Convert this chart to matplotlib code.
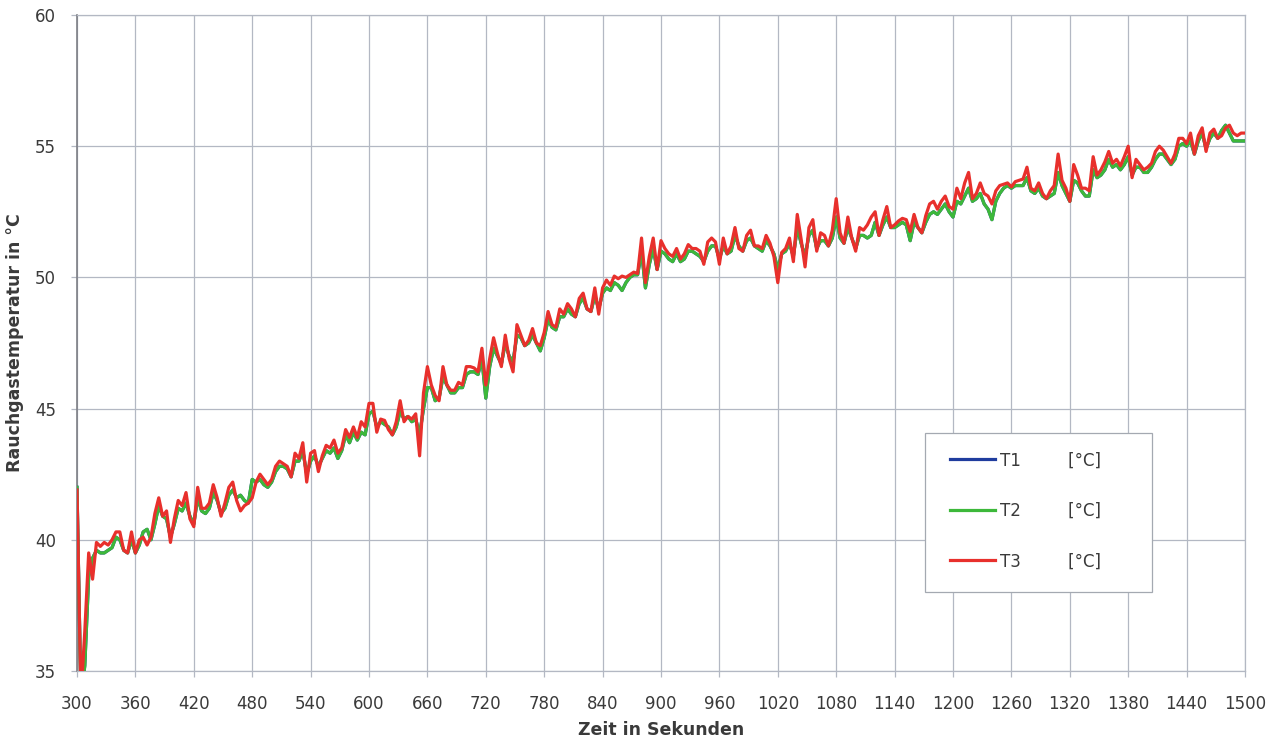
import numpy as np
import matplotlib
matplotlib.use("Agg")
import matplotlib.pyplot as plt
from matplotlib.patches import Rectangle

# Sampling times in seconds (one reading every 4 s)
zeit = np.arange(300, 1501, 4)

# Flue gas temperature sensor T3 [°C]
t3 = [
    41.9, 34.0, 36.5, 39.5, 38.5, 39.9, 39.75, 39.9, 39.8, 40.0,
    40.3, 40.3, 39.6, 39.5, 40.3, 39.5, 40.0, 40.1, 39.8, 40.1,
    41.0, 41.6, 40.9, 41.1, 39.9, 40.8, 41.5, 41.3, 41.8, 40.8,
    40.5, 42.0, 41.2, 41.2, 41.4, 42.1, 41.6, 40.9, 41.4, 42.0,
    42.2, 41.5, 41.1, 41.3, 41.4, 41.6, 42.2, 42.5, 42.3, 42.1,
    42.3, 42.8, 43.0, 42.9, 42.8, 42.4, 43.3, 43.1, 43.7, 42.2,
    43.3, 43.4, 42.6, 43.2, 43.6, 43.5, 43.8, 43.3, 43.5, 44.2,
    43.9, 44.3, 43.9, 44.5, 44.3, 45.2, 45.2, 44.1, 44.6, 44.55,
    44.2, 44.0, 44.5, 45.3, 44.5, 44.7, 44.6, 44.8, 43.2, 45.6,
    46.6, 45.9, 45.5, 45.3, 46.6, 45.9, 45.7, 45.7, 46.0, 45.9,
    46.6, 46.6, 46.55, 46.4, 47.3, 45.9, 46.9, 47.7, 47.1, 46.6,
    47.8, 46.9, 46.4, 48.2, 47.8, 47.4, 47.6, 48.05, 47.5, 47.4,
    47.9, 48.7, 48.2, 48.1, 48.8, 48.6, 49.0, 48.8, 48.5, 49.2,
    49.4, 48.8, 48.7, 49.6, 48.6, 49.6, 49.9, 49.7, 50.05, 49.95,
    50.05, 50.0, 50.1, 50.2, 50.15, 51.5, 49.8, 50.8, 51.5, 50.3,
    51.4, 51.1, 50.9, 50.8, 51.1, 50.7, 50.9, 51.25, 51.1, 51.1,
    51.0, 50.5, 51.35, 51.5, 51.35, 50.5, 51.5, 50.9, 51.2, 51.9,
    51.1, 51.0, 51.6, 51.8, 51.2, 51.2, 51.1, 51.6, 51.3, 50.8,
    49.8, 50.95, 51.1, 51.5, 50.6, 52.4, 51.45, 50.4, 51.9, 52.2,
    51.0, 51.7, 51.6, 51.2, 51.8, 53.0, 51.7, 51.3, 52.3, 51.5,
    51.0, 51.9, 51.8, 52.0, 52.3, 52.5, 51.6, 52.2, 52.7, 51.9,
    52.0, 52.15, 52.25, 52.2, 51.75, 52.4, 51.9, 51.7, 52.35, 52.8,
    52.9, 52.6, 52.9, 53.1, 52.7, 52.6, 53.4, 53.0, 53.6, 54.0,
    53.0, 53.2, 53.6, 53.2, 53.1, 52.8, 53.3, 53.5, 53.55, 53.6,
    53.45, 53.65, 53.7, 53.75, 54.2, 53.4, 53.3, 53.6, 53.2, 53.0,
    53.3, 53.5, 54.7, 53.7, 53.4, 52.9, 54.3, 53.9, 53.4, 53.4,
    53.3, 54.6, 53.9, 54.1, 54.4, 54.8, 54.35, 54.5, 54.25, 54.6,
    55.0, 53.8, 54.5, 54.3, 54.1, 54.2, 54.35, 54.8, 55.0, 54.85,
    54.6, 54.35, 54.7, 55.3, 55.3, 55.1, 55.5, 54.7, 55.4, 55.7,
    54.8, 55.5, 55.65, 55.3, 55.4, 55.7, 55.8, 55.5, 55.4, 55.5,
    55.5,
]

# Flue gas temperature sensor T2 [°C]
t2 = [
    42.0, 34.0, 35.2, 38.6, 39.3, 39.6, 39.5, 39.5, 39.6, 39.7,
    40.1, 40.0, 39.6, 39.5, 40.0, 39.5, 39.8, 40.3, 40.4, 40.0,
    40.6, 41.3, 40.9, 40.8, 40.1, 40.6, 41.2, 41.1, 41.4, 40.9,
    40.6, 41.6, 41.1, 41.0, 41.2, 41.8, 41.5, 41.0, 41.2, 41.7,
    41.9, 41.6, 41.7, 41.5, 41.4, 42.3, 42.2, 42.3, 42.1, 42.0,
    42.2, 42.6, 42.8, 42.8, 42.7, 42.4, 43.0, 43.0, 43.4, 42.5,
    43.0, 43.2, 42.8, 43.1, 43.4, 43.3, 43.5, 43.1, 43.4, 44.0,
    43.7, 44.1, 43.8, 44.1, 44.0, 44.8, 44.9, 44.3, 44.5, 44.4,
    44.3, 44.0, 44.3, 44.9, 44.6, 44.7, 44.5, 44.6, 44.0, 45.0,
    45.8, 45.8, 45.3, 45.4, 46.2, 45.9, 45.6, 45.6, 45.8, 45.8,
    46.3, 46.4, 46.4, 46.3, 46.9, 45.4, 46.6, 47.3, 47.0, 46.7,
    47.5, 47.0, 46.8, 47.8, 47.7, 47.4, 47.5, 47.8, 47.5, 47.2,
    47.7, 48.4, 48.1, 48.0, 48.5, 48.5, 48.8, 48.6, 48.5, 49.0,
    49.2, 48.8, 48.7, 49.3, 48.8, 49.4, 49.6, 49.5, 49.8, 49.7,
    49.5, 49.8, 50.0, 50.1, 50.1, 51.0, 49.6, 50.5, 51.1, 50.3,
    51.0, 50.9, 50.7, 50.6, 50.9, 50.6, 50.7, 51.0, 51.0, 50.9,
    50.8, 50.6, 51.0, 51.2, 51.2, 50.7, 51.2, 50.9, 51.0, 51.6,
    51.2, 51.0, 51.4, 51.5, 51.2, 51.1, 51.0, 51.4, 51.2, 50.9,
    50.3, 50.9, 51.0, 51.3, 50.8, 51.9, 51.3, 50.8, 51.6, 51.8,
    51.1, 51.4, 51.4, 51.2, 51.5, 52.3, 51.5, 51.3, 51.9, 51.5,
    51.1, 51.6, 51.6, 51.5, 51.6, 52.1, 51.6, 52.0, 52.3, 51.9,
    51.9, 52.0, 52.1, 52.0, 51.4, 52.1, 51.9, 51.7, 52.1, 52.4,
    52.5, 52.4, 52.6, 52.8, 52.5, 52.3, 52.9, 52.8, 53.1, 53.4,
    52.9, 53.0, 53.2, 52.8, 52.6, 52.2, 52.9, 53.2, 53.4, 53.5,
    53.4, 53.5, 53.5, 53.5, 53.8, 53.3, 53.2, 53.4, 53.1, 53.0,
    53.1, 53.2, 54.0, 53.5, 53.2, 52.9, 53.7, 53.6, 53.3, 53.1,
    53.1, 54.1, 53.8, 53.9, 54.1, 54.5, 54.2, 54.3, 54.1, 54.3,
    54.6, 53.9, 54.2, 54.2, 54.0, 54.0, 54.2, 54.5, 54.7, 54.7,
    54.5, 54.3, 54.5, 55.0, 55.1, 55.0, 55.2, 54.7, 55.2, 55.5,
    54.9, 55.3, 55.5, 55.3, 55.6, 55.8, 55.5, 55.2, 55.2, 55.2,
    55.2,
]

# Sensor T1 read the same values as T2 during this run
t1 = list(t2)

serien = [("T1", t1, "#1f3c9e"), ("T2", t2, "#3db83a"), ("T3", t3, "#e8302c")]

x_ticks = list(range(300, 1501, 60))
y_ticks = [35, 40, 45, 50, 55, 60]

grid_col = "#b3b8c3"
txt_col = "#3a3a3a"

plt.rcParams["font.family"] = ["DejaVu Sans"]

fig = plt.figure(figsize=(12.85, 7.39), dpi=100)
ax = fig.add_axes([77 / 1285, 68 / 739, 1168 / 1285, 656 / 739])

for name, vals, col in serien:
    ax.plot(zeit, vals, color=col, lw=2.3, label=f"{name}{' ' * 9}[°C]",
            solid_joinstyle="round", zorder=3)

ax.set_xlim(300, 1500)
ax.set_ylim(35, 60)
ax.set_xticks(x_ticks)
ax.set_yticks(y_ticks)
ax.grid(True, color=grid_col, lw=0.9)
ax.set_axisbelow(True)

for side in ("top", "right", "bottom"):
    ax.spines[side].set_color(grid_col)
    ax.spines[side].set_linewidth(0.9)
ax.spines["left"].set_color("#7d7f85")
ax.spines["left"].set_linewidth(1.2)

ax.tick_params(axis="both", colors=grid_col, labelcolor=txt_col,
               labelsize=12, length=4, width=0.9)
ax.tick_params(axis="x", pad=13)
ax.tick_params(axis="y", pad=11)

ax.set_xlabel("Zeit in Sekunden", fontsize=12.5, fontweight="bold",
              color=txt_col, labelpad=6)
ax.set_ylabel("Rauchgastemperatur in °C", fontsize=12.5, fontweight="bold",
              color=txt_col, labelpad=8)

# Legend box
box = Rectangle((0.726, 0.120), 0.194, 0.243, transform=ax.transAxes,
                facecolor="white", edgecolor="#a4a9b1", lw=0.9, zorder=4)
ax.add_patch(box)
leg = ax.legend(loc="upper left", bbox_to_anchor=(0.7474, 0.335),
                frameon=False, fontsize=12, handlelength=2.7,
                handletextpad=0.3, labelspacing=1.95, borderpad=0,
                borderaxespad=0)
leg.set_zorder(5)
for t in leg.get_texts():
    t.set_color(txt_col)

fig.savefig("out.png", dpi=100, facecolor="white")
